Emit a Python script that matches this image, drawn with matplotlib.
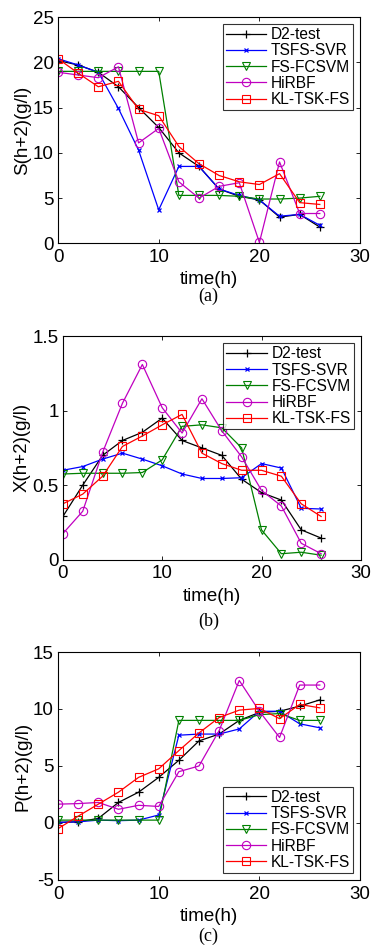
import matplotlib
matplotlib.use("Agg")
import matplotlib.pyplot as plt

t = [0, 2, 4, 6, 8, 10, 12, 14, 16, 18, 20, 22, 24, 26]
names = ["D2-test", "TSFS-SVR", "FS-FCSVM", "HiRBF", "KL-TSK-FS"]

S_d2 = [20.2, 19.7, 18.9, 17.3, 15.0, 12.8, 10.0, 8.5, 6.0, 5.2, 4.8, 2.9, 3.2, 1.8]
S_svr = [20.4, 19.7, 18.9, 14.9, 10.3, 3.7, 8.5, 8.5, 6.0, 5.3, 4.8, 3.0, 3.2, 2.0]
S_fcsvm = [19.0, 19.0, 19.0, 19.0, 19.0, 19.0, 5.3, 5.3, 5.3, 5.2, 4.9, 4.9, 5.0, 5.2]
S_hirbf = [18.9, 18.6, 18.3, 19.5, 11.1, 12.7, 6.8, 5.0, 6.3, 6.7, 0.1, 9.0, 3.3, 3.3]
S_kl = [20.4, 18.8, 17.3, 17.9, 14.8, 14.1, 10.7, 8.8, 7.5, 6.8, 6.5, 7.7, 4.5, 4.3]

X_d2 = [0.29, 0.50, 0.70, 0.80, 0.855, 0.95, 0.80, 0.75, 0.70, 0.54, 0.45, 0.40, 0.20, 0.145]
X_svr = [0.60, 0.625, 0.675, 0.715, 0.675, 0.63, 0.575, 0.545, 0.545, 0.55, 0.645, 0.615, 0.345, 0.34]
X_fcsvm = [0.575, 0.58, 0.58, 0.58, 0.585, 0.67, 0.895, 0.905, 0.885, 0.75, 0.20, 0.04, 0.05, 0.03]
X_hirbf = [0.175, 0.325, 0.72, 1.05, 1.31, 1.02, 0.85, 1.08, 0.865, 0.69, 0.465, 0.36, 0.11, 0.04]
X_kl = [0.375, 0.44, 0.56, 0.76, 0.83, 0.905, 0.975, 0.715, 0.645, 0.60, 0.60, 0.56, 0.375, 0.29]

P_d2 = [0.05, 0.1, 0.4, 1.8, 2.7, 4.0, 5.5, 7.2, 7.8, 9.0, 9.7, 9.8, 10.25, 10.8]
P_svr = [0.05, 0.1, 0.25, 0.2, 0.25, 0.7, 7.7, 7.8, 7.8, 8.25, 9.8, 9.8, 8.7, 8.35]
P_fcsvm = [0.25, 0.25, 0.25, 0.25, 0.25, 0.25, 9.0, 9.0, 9.0, 9.0, 9.5, 9.6, 9.0, 9.0]
P_hirbf = [1.65, 1.7, 1.8, 1.2, 1.55, 1.45, 4.5, 5.0, 8.1, 12.5, 9.8, 7.5, 12.1, 12.1]
P_kl = [-0.5, 0.6, 1.65, 2.7, 4.0, 4.75, 6.35, 7.9, 9.25, 9.9, 10.05, 9.15, 10.4, 10.1]

styles = [
    dict(color="black", marker="+", ms=6, mew=0.9),
    dict(color="#0000ff", marker="x", ms=3, mew=0.9),
    dict(color="#008000", marker="v", ms=6, mfc="none", mew=0.8),
    dict(color="#c000c0", marker="o", ms=6, mfc="none", mew=0.8),
    dict(color="#ff0000", marker="s", ms=6, mfc="none", mew=0.8),
]

plt.rcParams["font.family"] = ["Liberation Sans", "DejaVu Sans"]

fig = plt.figure(figsize=(3.72, 9.47), dpi=100)

panels = [
    dict(rect=[0.156, 0.743, 0.812, 0.239], data=[S_d2, S_svr, S_fcsvm, S_hirbf, S_kl],
         ylim=(0, 25), yticks=[0, 5, 10, 15, 20, 25], yticklabels=["0", "5", "10", "15", "20", "25"],
         ylabel="S(h+2)(g/l)", cap="(a)", legloc="upper right", capy=0.678),
    dict(rect=[0.169, 0.409, 0.801, 0.236], data=[X_d2, X_svr, X_fcsvm, X_hirbf, X_kl],
         ylim=(0, 1.5), yticks=[0, 0.5, 1, 1.5], yticklabels=["0", "0.5", "1", "1.5"],
         ylabel="X(h+2)(g/l)", cap="(b)", legloc="upper right", capy=0.335),
    dict(rect=[0.156, 0.0708, 0.812, 0.2407], data=[P_d2, P_svr, P_fcsvm, P_hirbf, P_kl],
         ylim=(-5, 15), yticks=[-5, 0, 5, 10, 15], yticklabels=["-5", "0", "5", "10", "15"],
         ylabel="P(h+2)(g/l)", cap="(c)", legloc="lower right", capy=0.002),
]

for p in panels:
    ax = fig.add_axes(p["rect"])
    for name, y, st in zip(names, p["data"], styles):
        ax.plot(t, y, lw=0.9, label=name, **st)
    ax.set_xlim(0, 30)
    ax.set_ylim(*p["ylim"])
    ax.set_xticks([0, 10, 20, 30])
    ax.set_yticks(p["yticks"])
    ax.set_yticklabels(p["yticklabels"])
    ax.tick_params(direction="in", top=True, right=True, labelsize=13.5, length=3, width=0.6)
    ax.tick_params(axis="x", pad=4)
    ax.tick_params(axis="y", pad=3)
    for s in ax.spines.values():
        s.set_linewidth(0.8)
    ax.set_ylabel(p["ylabel"], fontsize=13.5, labelpad=1)
    ax.set_xlabel("time(h)", fontsize=13.5, labelpad=4)
    leg = ax.legend(loc=p["legloc"],
                    fontsize=11.2, frameon=True, fancybox=False, edgecolor="black",
                    borderpad=0.2, labelspacing=0.08, handlelength=2.6, handletextpad=0.3,
                    borderaxespad=0.45)
    leg.get_frame().set_linewidth(0.8)
    fig.text(0.56, p["capy"], p["cap"], ha="center", va="bottom", fontsize=13,
             family=["Liberation Serif", "DejaVu Serif"])

fig.savefig("out.png", dpi=100)
